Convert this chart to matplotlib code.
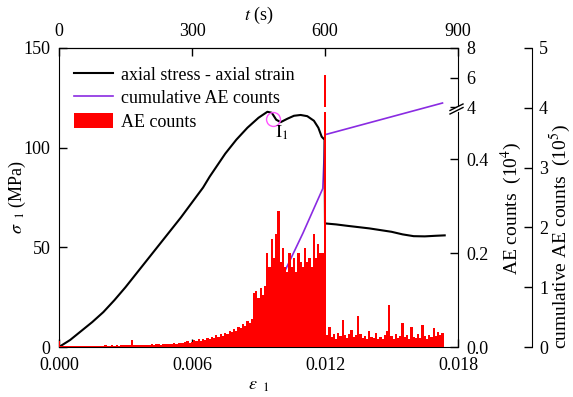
import numpy as np
import matplotlib
matplotlib.use('Agg')
import matplotlib.pyplot as plt
from matplotlib.lines import Line2D
from matplotlib.patches import Patch, Polygon

# ---------------- data ----------------
stress_strain = [0.0, 0.0005, 0.001, 0.0015, 0.002, 0.0025, 0.003, 0.0035, 0.004, 0.0045,
                 0.005, 0.0055, 0.006, 0.0065, 0.0068, 0.0075, 0.008, 0.0085, 0.009, 0.0094,
                 0.0096, 0.0098, 0.0100, 0.0103, 0.0106, 0.0109, 0.0112, 0.0115, 0.0117,
                 0.01185, 0.01198, 0.0120, 0.0125, 0.013, 0.014, 0.015, 0.0155, 0.016,
                 0.0165, 0.017, 0.0174]
stress = [0.0, 3.5, 8.0, 12.5, 17.5, 23.5, 30.0, 37.0, 44.0, 51.0,
          58.0, 65.0, 72.5, 80.0, 85.5, 97.0, 104.0, 110.0, 115.0, 118.0,
          117.5, 114.0, 112.8, 114.5, 116.0, 116.4, 115.8, 113.5, 110.0,
          105.5, 104.0, 62.0, 61.5, 60.8, 59.5, 57.8, 56.5, 55.6,
          55.5, 55.8, 56.0]

cum_strain = [0.0, 0.002, 0.004, 0.006, 0.0085, np.nan, 0.0101, 0.0110, 0.0119, 0.0120, 0.0173]
cum_counts = [0.0, 0.0, 0.005, 0.01, 0.02, np.nan, 1.2, 1.9, 2.65, 3.55, 4.08]  # 10^5

ae_step = 0.0001
ae_counts = [  # 10^4, one value per 0.0001 strain
    0.012, 0.002, 0.003, 0.002, 0.002, 0.003, 0.002, 0.002, 0.003, 0.002,
    0.003, 0.002, 0.003, 0.003, 0.002, 0.003, 0.003, 0.002, 0.003, 0.003,
    0.003, 0.004, 0.003, 0.003, 0.004, 0.003, 0.004, 0.003, 0.004, 0.004,
    0.004, 0.005, 0.004, 0.014, 0.004, 0.005, 0.004, 0.005, 0.005, 0.004,
    0.005, 0.005, 0.006, 0.005, 0.006, 0.006, 0.005, 0.007, 0.006, 0.007,
    0.007, 0.006, 0.008, 0.007, 0.008, 0.009, 0.008, 0.010, 0.012, 0.009,
    0.011, 0.014, 0.012, 0.016, 0.013, 0.018, 0.015, 0.020, 0.017, 0.022,
    0.019, 0.025, 0.021, 0.028, 0.024, 0.030, 0.027, 0.034, 0.031, 0.038,
    0.035, 0.042, 0.040, 0.048, 0.045, 0.055, 0.052, 0.060, 0.115, 0.120,
    0.105, 0.125, 0.110, 0.130, 0.200, 0.170, 0.230, 0.190, 0.240, 0.290,
    0.180, 0.210, 0.170, 0.160, 0.200, 0.170, 0.190, 0.160, 0.200, 0.180,
    0.170, 0.210, 0.180, 0.190, 0.170, 0.240, 0.190, 0.220, 0.200, 0.200,
    6.200, 0.025, 0.043, 0.022, 0.028, 0.018, 0.030, 0.024, 0.057, 0.026,
    0.020, 0.027, 0.036, 0.022, 0.025, 0.065, 0.028, 0.020, 0.024, 0.018,
    0.035, 0.021, 0.019, 0.030, 0.016, 0.022, 0.018, 0.025, 0.035, 0.089,
    0.024, 0.017, 0.028, 0.020, 0.023, 0.051, 0.021, 0.026, 0.018, 0.042,
    0.022, 0.019, 0.027, 0.020, 0.047, 0.023, 0.018, 0.025, 0.021, 0.040,
    0.024, 0.032, 0.026, 0.030]
ae_strain = np.arange(len(ae_counts)) * ae_step

strain_ticks = [0.0, 0.006, 0.012, 0.018]
time_ticks = [0, 300, 600, 900]
stress_ticks = [0, 50, 100, 150]
ae_low_ticks = [0.0, 0.2, 0.4]
ae_up_ticks = [4, 6, 8]
cum_ticks = [0, 1, 2, 3, 4, 5]
peak_point = (0.00964, 114.4)

# ---------------- style ----------------
plt.rcParams['font.family'] = ['Liberation Serif', 'DejaVu Serif']
plt.rcParams['mathtext.fontset'] = 'stix'
plt.rcParams['font.size'] = 13
FS = 13

W, H = 573, 397
fig = plt.figure(figsize=(W / 100, H / 100), dpi=100)

def rect(l, t, r, b):
    return [l / W, 1 - b / H, (r - l) / W, (b - t) / H]

L, R, T, B = 59, 458, 48, 347
ax_cum = fig.add_axes(rect(L, T, R, B))
ax = fig.add_axes(rect(L, T, R, B))
ax_low = fig.add_axes(rect(L, 112, R, B))
ax_up = fig.add_axes(rect(L, T, R, 107))

xlim = (0, 0.018)
purple = '#8a2be2'

# cumulative axis (third)
ax_cum.plot(cum_strain, cum_counts, color=purple, lw=1.2)
ax_cum.set_xlim(*xlim)
ax_cum.set_ylim(0, 5)
for s in ['left', 'top', 'bottom']:
    ax_cum.spines[s].set_visible(False)
ax_cum.spines['right'].set_position(('axes', (532 - L) / (R - L)))
ax_cum.xaxis.set_visible(False)
ax_cum.yaxis.tick_right()
ax_cum.set_yticks(cum_ticks)
ax_cum.tick_params(axis='y', direction='in', length=6, width=1, pad=5, labelsize=FS)

# main axis
ax.patch.set_alpha(0)
ax.plot(stress_strain, stress, color='black', lw=1.5)
ax.set_xlim(*xlim)
ax.set_ylim(0, 150)
ax.set_xticks(strain_ticks)
ax.set_xticklabels(['%.3f' % v for v in strain_ticks])
ax.set_yticks(stress_ticks)
ax.spines['right'].set_visible(False)
ax.tick_params(direction='in', length=6, width=1, pad=6, labelsize=FS)
ax.tick_params(axis='x', pad=7)
ax.set_ylabel(r'$\sigma_{\ \ 1}$ (MPa)', fontsize=FS)
ax.yaxis.set_label_coords((28 - L) / (R - L), 0.5)
ax.set_xlabel(r'$\varepsilon_{\ \ 1}$', fontsize=FS, labelpad=2)
ax.plot([peak_point[0]], [peak_point[1]], 'o', ms=10, mfc='none', mec='#ff55ff', mew=1)
ax.text(0.01005, 107.4, r'$\mathrm{I}_{1}$', fontsize=FS, ha='center', va='center')

top = ax.secondary_xaxis('top', functions=(lambda e: e * 50000, lambda t: t / 50000))
top.set_xticks(time_ticks)
top.tick_params(direction='in', length=6, width=1, pad=6, labelsize=FS)
top.set_xlabel(r'$t$ (s)', fontsize=FS, labelpad=2)

# AE axes (broken)
for a, lim, ticks, labels in [(ax_low, (0, 0.5), ae_low_ticks, ['0.0', '0.2', '0.4']),
                              (ax_up, (4, 8), ae_up_ticks, ['4', '6', '8'])]:
    a.patch.set_alpha(0)
    a.bar(ae_strain, ae_counts, width=ae_step, color='red', linewidth=0)
    a.set_xlim(*xlim)
    a.set_ylim(*lim)
    for s in ['left', 'top', 'bottom']:
        a.spines[s].set_visible(False)
    a.xaxis.set_visible(False)
    a.yaxis.tick_right()
    a.set_yticks(ticks)
    a.set_yticklabels(labels)
    a.tick_params(axis='y', direction='in', length=6, width=1, pad=6, labelsize=FS)

# break marks
tr = fig.transFigure
def px(x, y):
    return (x / W, 1 - y / H)
fig.add_artist(Polygon([px(450, 110.5), px(463, 104), px(463, 107.5), px(450, 114)],
                       closed=True, facecolor='white', edgecolor='none', transform=tr))
for dy in (0, 3.5):
    p1, p2 = px(450, 110.5 + dy), px(463, 104 + dy)
    fig.add_artist(Line2D([p1[0], p2[0]], [p1[1], p2[1]], color='black', lw=1, transform=tr))

# right labels
fig.text(511 / W, 1 - 208 / H, r'AE counts  (10$^{4}$)', rotation=90, ha='center', va='center', fontsize=14)
fig.text(560 / W, 1 - 237 / H, r'cumulative AE counts  (10$^{5}$)', rotation=90, ha='center', va='center', fontsize=14)

handles = [Line2D([], [], color='black', lw=1.5),
           Line2D([], [], color=purple, lw=1.2),
           Patch(facecolor='red', edgecolor='none')]
ax.legend(handles, ['axial stress - axial strain', 'cumulative AE counts', 'AE counts'],
          loc='upper left', bbox_to_anchor=(0.037, 0.94), frameon=False, fontsize=FS,
          handlelength=2.2, handleheight=0.95, handletextpad=0.4, labelspacing=0.3,
          borderpad=0, borderaxespad=0)

fig.savefig('out.png', dpi=100)
